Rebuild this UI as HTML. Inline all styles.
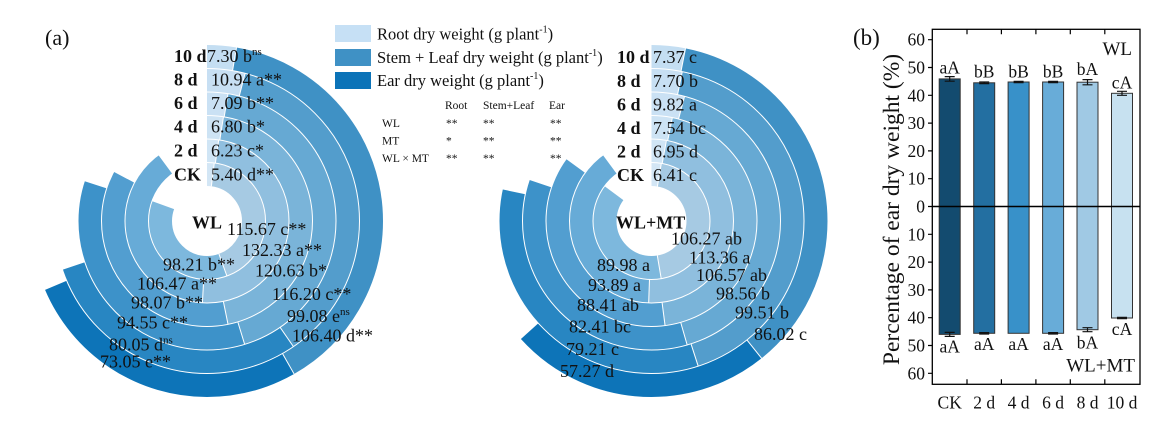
<!DOCTYPE html>
<html><head><meta charset="utf-8"><style>
html,body{margin:0;padding:0;background:#fff;}
svg{display:block;}
text{font-family:"Liberation Serif","Times New Roman",serif;fill:#111;}
</style></head><body>
<svg width="1169" height="429" viewBox="0 0 1169 429" xmlns="http://www.w3.org/2000/svg">
<rect width="1169" height="429" fill="#fff"/>

<!-- ===== WL radial chart ===== -->
<g transform="translate(207,221) rotate(-90)" fill="none" stroke-width="23.5">
  <circle r="46.75" pathLength="360" stroke="#d3e6f5" stroke-dasharray="7.14 400" stroke-dashoffset="0"/>
  <circle r="46.75" pathLength="360" stroke="#a6cae3" stroke-dasharray="152.95 400" stroke-dashoffset="-7.14"/>
  <circle r="46.75" pathLength="360" stroke="#7db8dd" stroke-dasharray="129.86 400" stroke-dashoffset="-160.09"/>
  <circle r="70.25" pathLength="360" stroke="#d0e5f5" stroke-dasharray="8.24 400" stroke-dashoffset="0"/>
  <circle r="70.25" pathLength="360" stroke="#90bfdf" stroke-dasharray="174.98 400" stroke-dashoffset="-8.24"/>
  <circle r="70.25" pathLength="360" stroke="#67abd7" stroke-dasharray="140.78 400" stroke-dashoffset="-183.22"/>
  <circle r="93.75" pathLength="360" stroke="#cde3f4" stroke-dasharray="8.99 400" stroke-dashoffset="0"/>
  <circle r="93.75" pathLength="360" stroke="#7ab4d9" stroke-dasharray="159.51 400" stroke-dashoffset="-8.99"/>
  <circle r="93.75" pathLength="360" stroke="#529ed0" stroke-dasharray="129.68 400" stroke-dashoffset="-168.50"/>
  <circle r="117.25" pathLength="360" stroke="#cae1f4" stroke-dasharray="9.38 400" stroke-dashoffset="0"/>
  <circle r="117.25" pathLength="360" stroke="#66a9d3" stroke-dasharray="153.65 400" stroke-dashoffset="-9.38"/>
  <circle r="117.25" pathLength="360" stroke="#3d92c9" stroke-dasharray="125.02 400" stroke-dashoffset="-163.03"/>
  <circle r="140.75" pathLength="360" stroke="#c7dff3" stroke-dasharray="14.47 400" stroke-dashoffset="0"/>
  <circle r="140.75" pathLength="360" stroke="#539dcc" stroke-dasharray="131.01 400" stroke-dashoffset="-14.47"/>
  <circle r="140.75" pathLength="360" stroke="#2886c2" stroke-dasharray="105.85 400" stroke-dashoffset="-145.48"/>
  <circle r="164.25" pathLength="360" stroke="#c4def2" stroke-dasharray="9.65 400" stroke-dashoffset="0"/>
  <circle r="164.25" pathLength="360" stroke="#3f91c5" stroke-dasharray="140.69 400" stroke-dashoffset="-9.65"/>
  <circle r="164.25" pathLength="360" stroke="#0d74b8" stroke-dasharray="96.59 400" stroke-dashoffset="-150.34"/>
</g>
<g transform="translate(207,221)" fill="none" stroke="#fff" stroke-width="1">
  <circle r="58.5"/><circle r="82"/><circle r="105.5"/><circle r="129"/><circle r="152.5"/>
  <line x1="0" y1="-35" x2="0" y2="-58.5" transform="rotate(7.14)"/>
  <line x1="0" y1="-35" x2="0" y2="-58.5" transform="rotate(160.09)"/>
  <line x1="0" y1="-58.5" x2="0" y2="-82" transform="rotate(8.24)"/>
  <line x1="0" y1="-58.5" x2="0" y2="-82" transform="rotate(183.22)"/>
  <line x1="0" y1="-82" x2="0" y2="-105.5" transform="rotate(8.99)"/>
  <line x1="0" y1="-82" x2="0" y2="-105.5" transform="rotate(168.50)"/>
  <line x1="0" y1="-105.5" x2="0" y2="-129" transform="rotate(9.38)"/>
  <line x1="0" y1="-105.5" x2="0" y2="-129" transform="rotate(163.03)"/>
  <line x1="0" y1="-129" x2="0" y2="-152.5" transform="rotate(14.47)"/>
  <line x1="0" y1="-129" x2="0" y2="-152.5" transform="rotate(145.48)"/>
  <line x1="0" y1="-152.5" x2="0" y2="-176" transform="rotate(9.65)"/>
  <line x1="0" y1="-152.5" x2="0" y2="-176" transform="rotate(150.34)"/>
</g>

<!-- ===== WL+MT radial chart ===== -->
<g transform="translate(651.5,221) rotate(-90)" fill="none" stroke-width="23.5">
  <circle r="46.75" pathLength="360" stroke="#d3e6f5" stroke-dasharray="9.70 400" stroke-dashoffset="0"/>
  <circle r="46.75" pathLength="360" stroke="#a6cae3" stroke-dasharray="160.74 400" stroke-dashoffset="-9.70"/>
  <circle r="46.75" pathLength="360" stroke="#7db8dd" stroke-dasharray="136.10 400" stroke-dashoffset="-170.44"/>
  <circle r="70.25" pathLength="360" stroke="#d0e5f5" stroke-dasharray="10.51 400" stroke-dashoffset="0"/>
  <circle r="70.25" pathLength="360" stroke="#90bfdf" stroke-dasharray="171.47 400" stroke-dashoffset="-10.51"/>
  <circle r="70.25" pathLength="360" stroke="#67abd7" stroke-dasharray="142.02 400" stroke-dashoffset="-181.98"/>
  <circle r="93.75" pathLength="360" stroke="#cde3f4" stroke-dasharray="11.41 400" stroke-dashoffset="0"/>
  <circle r="93.75" pathLength="360" stroke="#7ab4d9" stroke-dasharray="161.20 400" stroke-dashoffset="-11.41"/>
  <circle r="93.75" pathLength="360" stroke="#529ed0" stroke-dasharray="133.73 400" stroke-dashoffset="-172.61"/>
  <circle r="117.25" pathLength="360" stroke="#cae1f4" stroke-dasharray="14.85 400" stroke-dashoffset="0"/>
  <circle r="117.25" pathLength="360" stroke="#66a9d3" stroke-dasharray="149.08 400" stroke-dashoffset="-14.85"/>
  <circle r="117.25" pathLength="360" stroke="#3d92c9" stroke-dasharray="124.65 400" stroke-dashoffset="-163.94"/>
  <circle r="140.75" pathLength="360" stroke="#c7dff3" stroke-dasharray="11.65 400" stroke-dashoffset="0"/>
  <circle r="140.75" pathLength="360" stroke="#539dcc" stroke-dasharray="150.52 400" stroke-dashoffset="-11.65"/>
  <circle r="140.75" pathLength="360" stroke="#2886c2" stroke-dasharray="119.81 400" stroke-dashoffset="-162.17"/>
  <circle r="164.25" pathLength="360" stroke="#c4def2" stroke-dasharray="11.15 400" stroke-dashoffset="0"/>
  <circle r="164.25" pathLength="360" stroke="#3f91c5" stroke-dasharray="130.12 400" stroke-dashoffset="-11.15"/>
  <circle r="164.25" pathLength="360" stroke="#0d74b8" stroke-dasharray="86.63 400" stroke-dashoffset="-141.27"/>
</g>
<g transform="translate(651.5,221)" fill="none" stroke="#fff" stroke-width="1">
  <circle r="58.5"/><circle r="82"/><circle r="105.5"/><circle r="129"/><circle r="152.5"/>
  <line x1="0" y1="-35" x2="0" y2="-58.5" transform="rotate(9.70)"/>
  <line x1="0" y1="-35" x2="0" y2="-58.5" transform="rotate(170.44)"/>
  <line x1="0" y1="-58.5" x2="0" y2="-82" transform="rotate(10.51)"/>
  <line x1="0" y1="-58.5" x2="0" y2="-82" transform="rotate(181.98)"/>
  <line x1="0" y1="-82" x2="0" y2="-105.5" transform="rotate(11.41)"/>
  <line x1="0" y1="-82" x2="0" y2="-105.5" transform="rotate(172.61)"/>
  <line x1="0" y1="-105.5" x2="0" y2="-129" transform="rotate(14.85)"/>
  <line x1="0" y1="-105.5" x2="0" y2="-129" transform="rotate(163.94)"/>
  <line x1="0" y1="-129" x2="0" y2="-152.5" transform="rotate(11.65)"/>
  <line x1="0" y1="-129" x2="0" y2="-152.5" transform="rotate(162.17)"/>
  <line x1="0" y1="-152.5" x2="0" y2="-176" transform="rotate(11.15)"/>
  <line x1="0" y1="-152.5" x2="0" y2="-176" transform="rotate(141.27)"/>
</g>

<!-- ===== Panel (a) labels ===== -->
<text x="45" y="45" font-size="22">(a)</text>

<g font-size="18" font-weight="bold">
  <text x="174" y="62">10 d</text>
  <text x="174" y="85.5">8 d</text>
  <text x="174" y="109">6 d</text>
  <text x="174" y="132.5">4 d</text>
  <text x="174" y="156.5">2 d</text>
  <text x="174" y="180.5">CK</text>
  <text x="192" y="228.5">WL</text>
</g>
<g font-size="18">
  <text x="207" y="62">7.30 b<tspan font-size="11" dy="-7">ns</tspan></text>
  <text x="211" y="85.5">10.94 a**</text>
  <text x="211" y="109">7.09 b**</text>
  <text x="211" y="132.5">6.80 b*</text>
  <text x="211" y="156.5">6.23 c*</text>
  <text x="211" y="180.5">5.40 d**</text>

  <text x="227" y="235">115.67 c**</text>
  <text x="242" y="256">132.33 a**</text>
  <text x="255" y="276.5">120.63 b*</text>
  <text x="272" y="300">116.20 c**</text>
  <text x="287" y="322">99.08 e<tspan font-size="11" dy="-7">ns</tspan></text>
  <text x="292" y="341.5">106.40 d**</text>

  <text x="163" y="270.5">98.21 b**</text>
  <text x="137" y="289.5">106.47 a**</text>
  <text x="131" y="308.5">98.07 b**</text>
  <text x="117" y="328.5">94.55 c**</text>
  <text x="109" y="350.5">80.05 d<tspan font-size="11" dy="-7">ns</tspan></text>
  <text x="100" y="367.5">73.05 e**</text>
</g>

<g font-size="18" font-weight="bold">
  <text x="617" y="63">10 d</text>
  <text x="617" y="87">8 d</text>
  <text x="617" y="110.5">6 d</text>
  <text x="617" y="134">4 d</text>
  <text x="617" y="157.5">2 d</text>
  <text x="617" y="181">CK</text>
  <text x="616" y="228.5">WL+MT</text>
</g>
<g font-size="18">
  <text x="653" y="63">7.37 c</text>
  <text x="653" y="87">7.70 b</text>
  <text x="653" y="110.5">9.82 a</text>
  <text x="653" y="134">7.54 bc</text>
  <text x="653" y="157.5">6.95 d</text>
  <text x="653" y="181">6.41 c</text>

  <text x="671" y="244.5">106.27 ab</text>
  <text x="689" y="263.5">113.36 a</text>
  <text x="696" y="281">106.57 ab</text>
  <text x="716" y="299.5">98.56 b</text>
  <text x="735" y="318.5">99.51 b</text>
  <text x="754" y="340">86.02 c</text>

  <text x="597" y="271">89.98 a</text>
  <text x="588" y="291">93.89 a</text>
  <text x="577" y="311">88.41 ab</text>
  <text x="569" y="332.5">82.41 bc</text>
  <text x="566" y="355">79.21 c</text>
  <text x="560" y="377">57.27 d</text>
</g>

<!-- Legend -->
<rect x="335" y="25" width="36" height="17" fill="#c6e0f5"/>
<rect x="335" y="49" width="36" height="17" fill="#3f91c5"/>
<rect x="335" y="72" width="36" height="17" fill="#0b73b8"/>
<g font-size="16.5">
  <text x="377" y="39.5">Root dry weight (g plant<tspan font-size="10" dy="-7">-1</tspan><tspan dy="7">)</tspan></text>
  <text x="377" y="63">Stem + Leaf dry weight (g plant<tspan font-size="10" dy="-7">-1</tspan><tspan dy="7">)</tspan></text>
  <text x="377" y="86">Ear dry weight (g plant<tspan font-size="10" dy="-7">-1</tspan><tspan dy="7">)</tspan></text>
</g>

<!-- Significance table -->
<g font-size="11.5" style="fill:#222">
  <text x="445" y="109">Root</text>
  <text x="483" y="109">Stem+Leaf</text>
  <text x="549" y="109">Ear</text>
  <text x="382" y="127">WL</text>
  <text x="382" y="144.5">MT</text>
  <text x="382" y="162">WL × MT</text>
  <text x="446" y="127">**</text><text x="483" y="127">**</text><text x="550" y="127">**</text>
  <text x="446" y="144.5">*</text><text x="483" y="144.5">**</text><text x="550" y="144.5">**</text>
  <text x="446" y="162">**</text><text x="483" y="162">**</text><text x="550" y="162">**</text>
</g>

<!-- ===== Panel (b) ===== -->
<text x="853" y="45" font-size="23">(b)</text>
<text transform="translate(899,209.5) rotate(-90)" text-anchor="middle" font-size="23.5">Percentage of ear dry weight (%)</text>

<g stroke="#333" stroke-width="1">
  <rect x="939.2" y="78.9" width="21" height="127.6" fill="#134b6f"/>
  <rect x="973.7" y="82.8" width="21" height="123.7" fill="#236fa1"/>
  <rect x="1008.1" y="82.0" width="21" height="124.5" fill="#3891c9"/>
  <rect x="1042.6" y="82.0" width="21" height="124.5" fill="#68acd8"/>
  <rect x="1077.0" y="82.2" width="21" height="124.3" fill="#a0c9e4"/>
  <rect x="1111.5" y="93.3" width="21" height="113.2" fill="#c7e1f0"/>
  <rect x="939.2" y="206.5" width="21" height="127.9" fill="#134b6f"/>
  <rect x="973.7" y="206.5" width="21" height="126.8" fill="#236fa1"/>
  <rect x="1008.1" y="206.5" width="21" height="126.8" fill="#3891c9"/>
  <rect x="1042.6" y="206.5" width="21" height="126.8" fill="#68acd8"/>
  <rect x="1077.0" y="206.5" width="21" height="123.2" fill="#a0c9e4"/>
  <rect x="1111.5" y="206.5" width="21" height="111.5" fill="#c7e1f0"/>
</g>
<g stroke="#111" stroke-width="1.2" fill="none">
  <path d="M949.7 76.6V81.2M944.7 76.6H954.7M944.7 81.2H954.7"/>
  <path d="M984.2 82.0V83.6M979.2 82.0H989.2M979.2 83.6H989.2"/>
  <path d="M1018.6 81.4V82.6M1013.6 81.4H1023.6M1013.6 82.6H1023.6"/>
  <path d="M1053.1 81.4V82.6M1048.1 81.4H1058.1M1048.1 82.6H1058.1"/>
  <path d="M1087.5 79.6V84.8M1082.5 79.6H1092.5M1082.5 84.8H1092.5"/>
  <path d="M1122.0 91.3V95.3M1117.0 91.3H1127.0M1117.0 95.3H1127.0"/>
  <path d="M949.7 332.4V336.4M944.7 332.4H954.7M944.7 336.4H954.7"/>
  <path d="M984.2 332.6V334.0M979.2 332.6H989.2M979.2 334.0H989.2"/>
  <path d="M1053.1 332.6V334.0M1048.1 332.6H1058.1M1048.1 334.0H1058.1"/>
  <path d="M1087.5 327.7V331.7M1082.5 327.7H1092.5M1082.5 331.7H1092.5"/>
  <path d="M1122.0 317.3V318.7M1117.0 317.3H1127.0M1117.0 318.7H1127.0"/>
</g>
<rect x="932.3" y="29.3" width="207.7" height="355" fill="none" stroke="#000" stroke-width="1.3"/>
<line x1="932.3" y1="206.5" x2="1140" y2="206.5" stroke="#000" stroke-width="1.5"/>
<g stroke="#000" stroke-width="1.2">
  <path d="M928 39.7H932.3M928 67.5H932.3M928 95.3H932.3M928 123.1H932.3M928 150.9H932.3M928 178.7H932.3M928 206.5H932.3M928 234.3H932.3M928 262.1H932.3M928 289.9H932.3M928 317.7H932.3M928 345.5H932.3M928 373.3H932.3"/>
  <path d="M967 29.3V34.3M1001.4 29.3V34.3M1035.9 29.3V34.3M1070.3 29.3V34.3M1104.8 29.3V34.3"/>
  <path d="M967 384.3V379.3M1001.4 384.3V379.3M1035.9 384.3V379.3M1070.3 384.3V379.3M1104.8 384.3V379.3"/>
</g>
<g font-size="17.5" text-anchor="end">
  <text x="925" y="45.7">60</text>
  <text x="925" y="73.5">50</text>
  <text x="925" y="101.3">40</text>
  <text x="925" y="129.1">30</text>
  <text x="925" y="156.9">20</text>
  <text x="925" y="184.7">10</text>
  <text x="925" y="212.5">0</text>
  <text x="925" y="240.3">10</text>
  <text x="925" y="268.1">20</text>
  <text x="925" y="295.9">30</text>
  <text x="925" y="323.7">40</text>
  <text x="925" y="351.5">50</text>
  <text x="925" y="379.3">60</text>
</g>
<g font-size="17.5" text-anchor="middle">
  <text x="949.7" y="73.5">aA</text>
  <text x="984.2" y="77.5">bB</text>
  <text x="1018.6" y="77.5">bB</text>
  <text x="1053.1" y="77.5">bB</text>
  <text x="1087.5" y="75">bA</text>
  <text x="1122" y="88.5">cA</text>
  <text x="949.7" y="352.5">aA</text>
  <text x="984.2" y="350">aA</text>
  <text x="1018.6" y="350">aA</text>
  <text x="1053.1" y="350">aA</text>
  <text x="1087.5" y="348.5">bA</text>
  <text x="1122" y="335">cA</text>
  <text x="949.7" y="408.5">CK</text>
  <text x="984.2" y="408.5">2 d</text>
  <text x="1018.6" y="408.5">4 d</text>
  <text x="1053.1" y="408.5">6 d</text>
  <text x="1087.5" y="408.5">8 d</text>
  <text x="1122" y="408.5">10 d</text>
</g>
<text x="1132" y="55" font-size="19" text-anchor="end">WL</text>
<text x="1135" y="371.5" font-size="19" text-anchor="end">WL+MT</text>
</svg>
</body></html>
